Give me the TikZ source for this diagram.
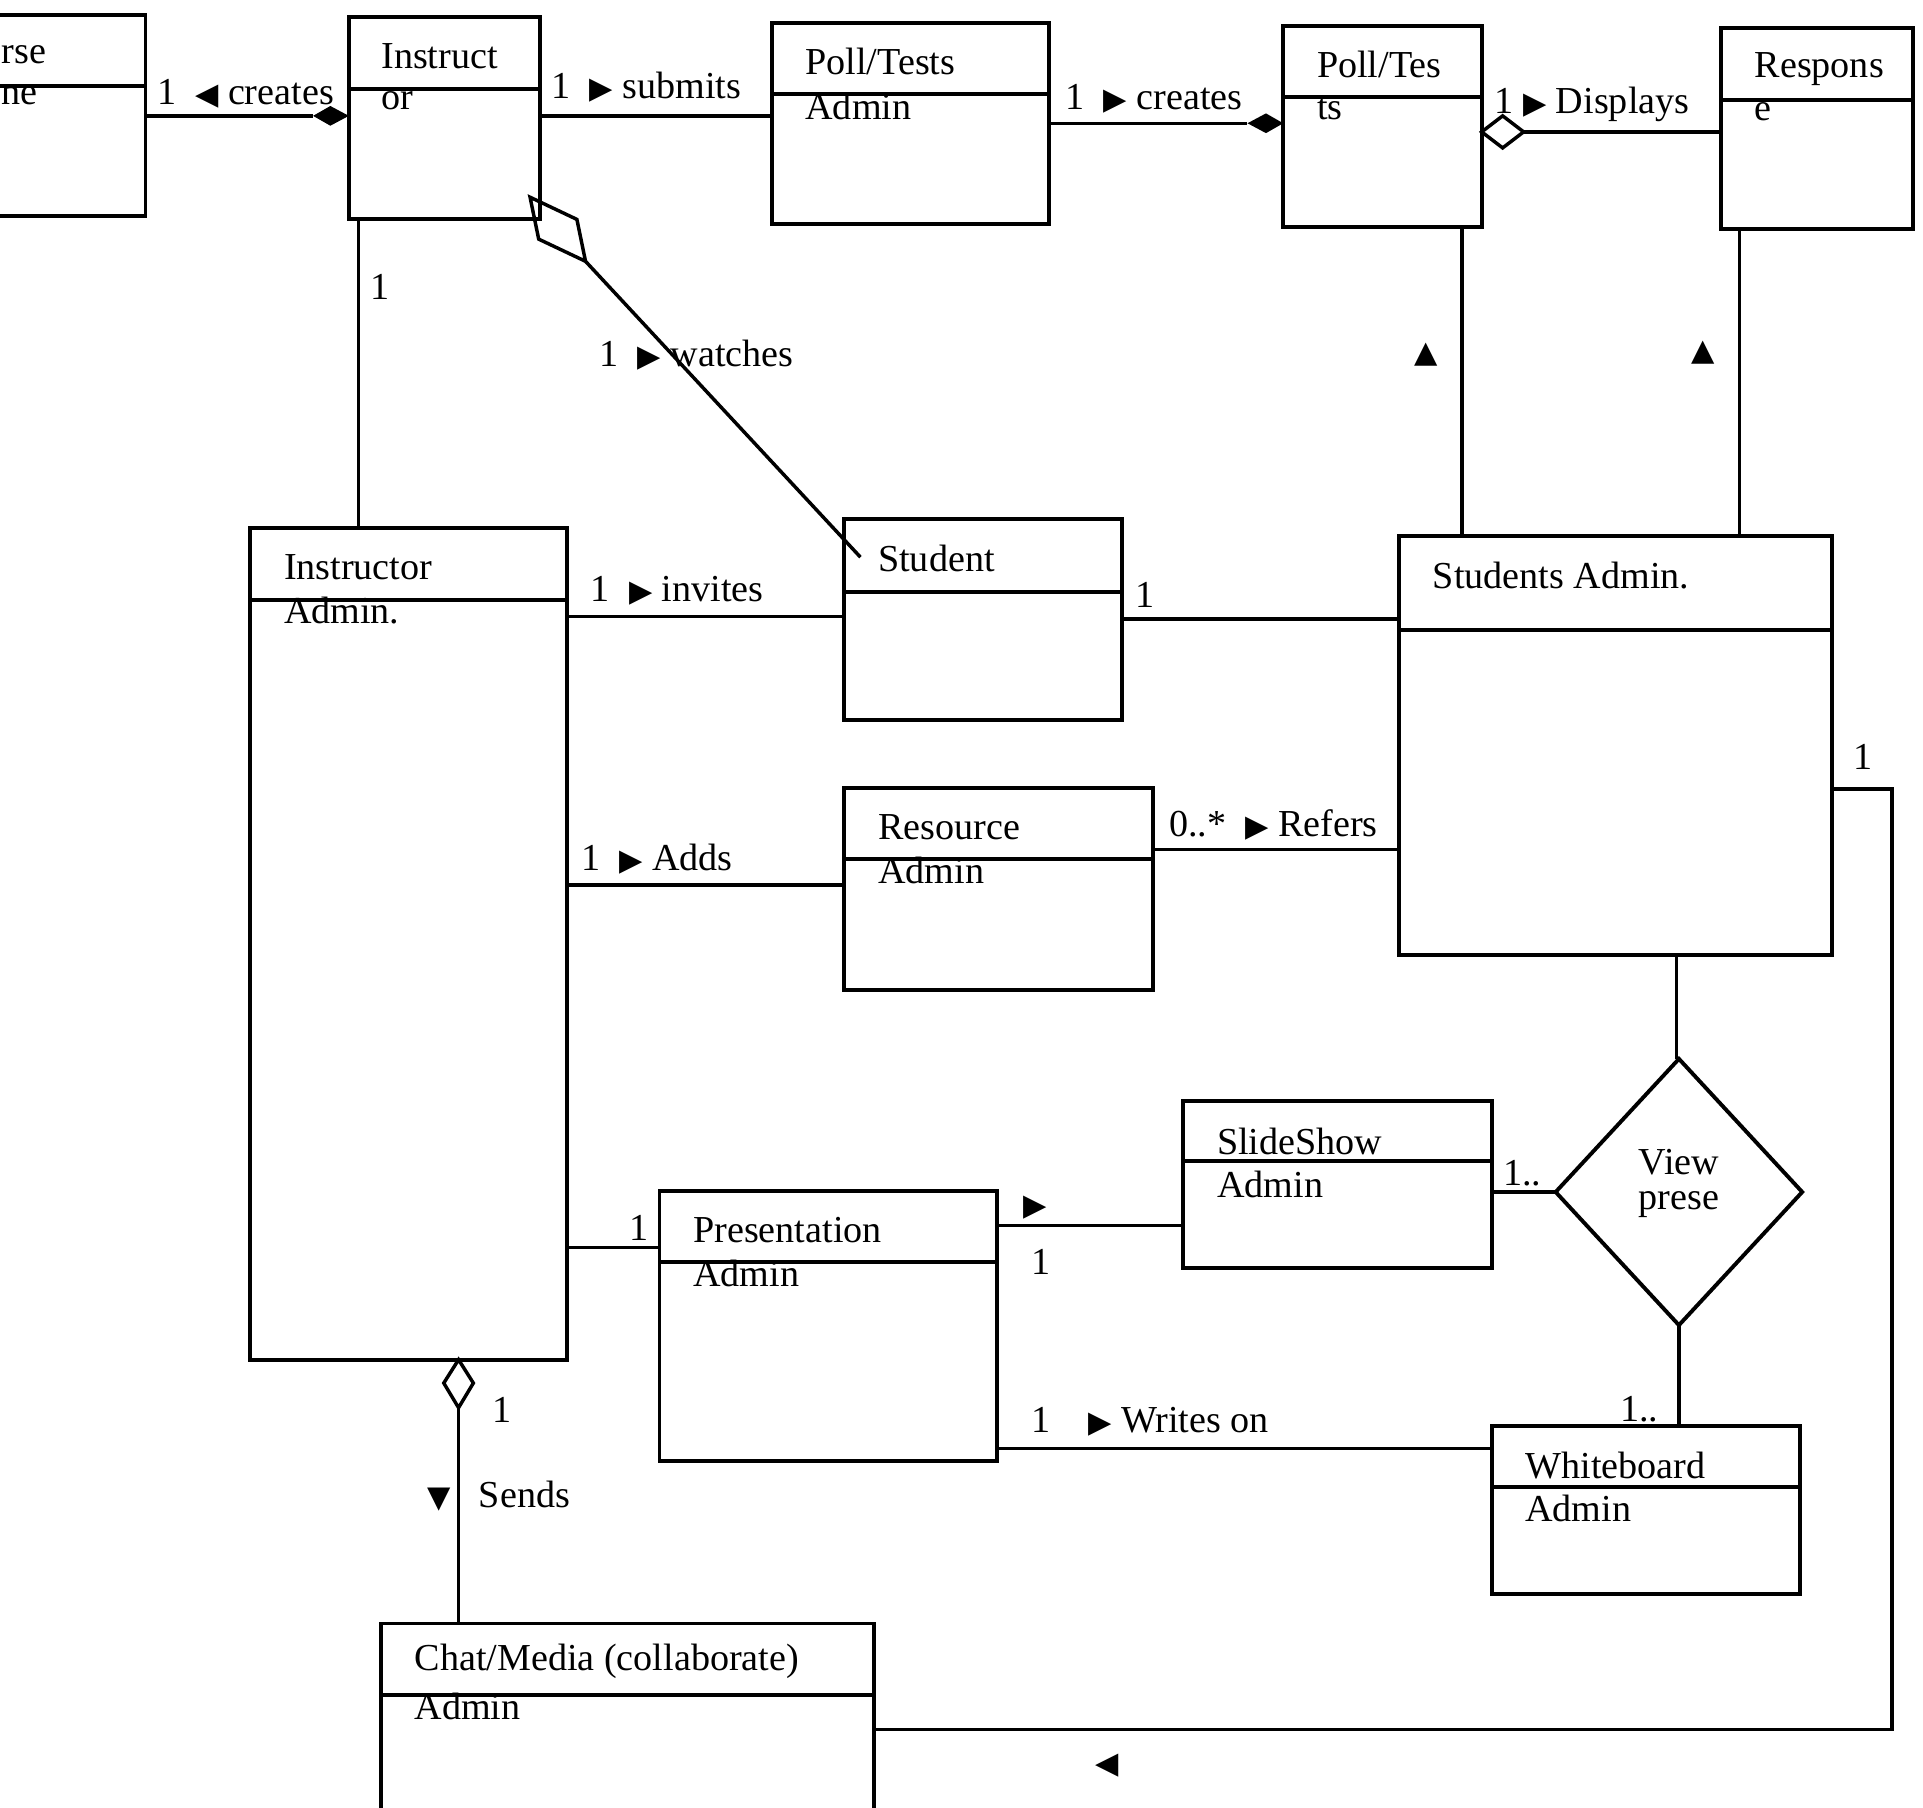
\documentclass[tikz,border=0pt]{standalone}
\usepackage{fontspec}
\setmainfont{Liberation Serif}
\newfontfamily\sym{DejaVu Sans}
\begin{document}
\begin{tikzpicture}[x=0.1mm,y=-0.1mm,line width=0.8pt,
  lbl/.style={anchor=west,inner sep=0pt,font=\fontsize{8.8}{10}\selectfont},
  bx/.style={draw,line width=0.9pt}]
\useasboundingbox (0,0) rectangle (1560,1466);
\newcommand{\umlbox}[6]{% name x1 y1 x2 y2 div
  \draw[bx] (#2,#3) rectangle (#4,#5); \draw[bx] (#2,#6) -- (#4,#6);
  \coordinate (#1) at (#2,#3);}
\begin{scope}
\clip (0,0) rectangle (1560,1466);
\umlbox{co}{-60}{12}{118}{175}{70}
\umlbox{ins}{283}{14}{438}{178}{72}
\umlbox{pa}{626}{19}{851}{182}{76}
\umlbox{pt}{1041}{21}{1202}{184}{79}
\umlbox{re}{1396}{23}{1552}{186}{81}
\umlbox{ia}{203}{428}{460}{1103}{487}
\umlbox{st}{685}{421}{910}{584}{480}
\umlbox{sa}{1135}{435}{1486}{775}{511}
\umlbox{ra}{685}{639}{935}{803}{697}
\umlbox{ss}{960}{893}{1210}{1029}{942}
\umlbox{pr}{535}{966}{809}{1185}{1024}
\umlbox{wb}{1210}{1157}{1460}{1293}{1206}
\umlbox{ch}{309}{1317}{709}{1500}{1375}
\end{scope}
\coordinate (vp) at (1362,967);
\draw[line width=0.9pt] (1262,967) -- (1362,859) -- (1462,967) -- (1362,1075) -- cycle;
% box texts
\node[lbl] at (0,44) {rse}; \node[lbl] at (0,78) {ne};
\node[lbl] at (308,46) {Instruct}; \node[lbl] at (308,82) {or};
\node[lbl] at (652,50) {Poll/Tests}; \node[lbl] at (652,86) {Admin};
\node[lbl] at (1067,52) {Poll/Tes}; \node[lbl] at (1067,88) {ts};
\node[lbl] at (1422,56) {Respons}; \node[lbl] at (1422,91) {e};
\node[lbl] at (229,460) {Instructor}; \node[lbl] at (229,495) {Admin.};
\node[lbl] at (711,453) {Student};
\node[lbl] at (1161,467) {Students Admin.};
\node[lbl] at (711,671) {Resource}; \node[lbl] at (711,706) {Admin};
\node[lbl] at (986,926) {SlideShow}; \node[lbl] at (986,961) {Admin};
\node[lbl] at (561,998) {Presentation}; \node[lbl] at (561,1033) {Admin};
\node[lbl] at (1236,1189) {Whiteboard}; \node[lbl] at (1236,1224) {Admin};
\node[lbl] at (335,1348) {Chat/Media (collaborate)}; \node[lbl] at (335,1384) {Admin};
\node[lbl,anchor=center,align=center] at (1362,960) {View\\[-2pt]prese};
% connectors
\draw (118,94) -- (254,94);
\fill (254,94) -- (268,86) -- (283,94) -- (268,102) -- cycle;
\draw (438,94) -- (626,94);
\draw (851,100) -- (1012,100);
\fill (1012,100) -- (1027,92) -- (1041,100) -- (1027,108) -- cycle;
\draw (1236,107) -- (1396,107);
\draw (1202,107) -- (1219,94) -- (1236,107) -- (1219,120) -- cycle;
\draw (430,160) -- (468,178) -- (475,212) -- (437,194) -- cycle;
\draw (475,212) -- (698,452);
\draw (291,178) -- (291,428);
\draw (1186,184) -- (1186,435);
\draw (1411,186) -- (1411,435);
\draw (460,500) -- (685,500);
\draw (910,502) -- (1135,502);
\draw (460,718) -- (685,718);
\draw (935,689) -- (1135,689);
\draw (1360,775) -- (1360,859);
\draw (1210,967) -- (1262,967);
\draw (1362,1075) -- (1362,1157);
\draw (460,1012) -- (535,1012);
\draw (809,994) -- (960,994);
\draw (809,1175) -- (1210,1175);
\draw (372,1103) -- (384,1122) -- (372,1142) -- (360,1122) -- cycle;
\draw (372,1142) -- (372,1317);
\draw (1486,640) -- (1535,640) -- (1535,1403) -- (709,1403);
% labels
\node[lbl] at (126,76) {1 \ {\sym\fontsize{7}{8}\selectfont◀} creates};
\node[lbl] at (446,71) {1 \ {\sym\fontsize{7}{8}\selectfont▶} submits};
\node[lbl] at (863,80) {1 \ {\sym\fontsize{7}{8}\selectfont▶} creates};
\node[lbl] at (1211,85) {1 {\sym\fontsize{7}{8}\selectfont▶} Displays};
\node[lbl] at (299,233) {1};
\node[lbl] at (485,288) {1 \ {\sym\fontsize{7}{8}\selectfont▶} watches};
\node[lbl] at (1146,288) {\sym\fontsize{7}{8}\selectfont▲};
\node[lbl] at (1371,286) {\sym\fontsize{7}{8}\selectfont▲};
\node[lbl] at (478,479) {1 \ {\sym\fontsize{7}{8}\selectfont▶} invites};
\node[lbl] at (920,483) {1};
\node[lbl] at (1502,614) {1};
\node[lbl] at (470,697) {1 \ {\sym\fontsize{7}{8}\selectfont▶} Adds};
\node[lbl] at (947,669) {0..* \ {\sym\fontsize{7}{8}\selectfont▶} Refers};
\node[lbl] at (1218,952) {1..};
\node[lbl] at (1313,1143) {1..};
\node[lbl] at (509,996) {1};
\node[lbl] at (829,980) {\sym\fontsize{7}{8}\selectfont▶};
\node[lbl] at (835,1024) {1};
\node[lbl] at (835,1153) {1 \ \ \ {\sym\fontsize{7}{8}\selectfont▶} Writes on};
\node[lbl] at (398,1144) {1};
\node[lbl] at (345,1214) {{\sym\fontsize{7}{8}\selectfont▼} \ \ Sends};
\node[lbl] at (887,1432) {\sym\fontsize{7}{8}\selectfont◀};
\end{tikzpicture}
\end{document}
